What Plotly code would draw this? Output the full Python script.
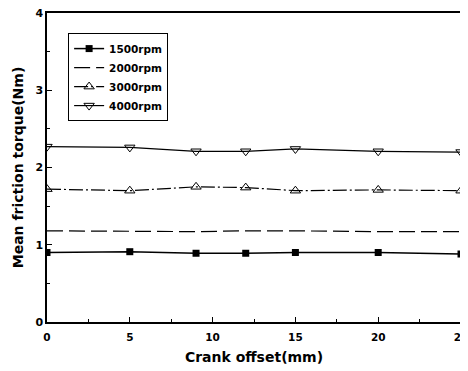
import plotly.graph_objects as go

offset_mm = [0, 5, 9, 12, 15, 20, 25]
rpm1500 = [0.90, 0.91, 0.89, 0.89, 0.90, 0.90, 0.88]
rpm2000 = [1.18, 1.17, 1.17, 1.18, 1.18, 1.17, 1.17]
rpm3000 = [1.72, 1.70, 1.75, 1.74, 1.70, 1.71, 1.70]
rpm4000 = [2.27, 2.26, 2.21, 2.21, 2.24, 2.21, 2.20]

FONT = "DejaVu Sans"
fig = go.Figure()
fig.add_trace(go.Scatter(x=offset_mm, y=rpm1500, name="1500rpm", mode="lines+markers",
                         line=dict(color="black", width=1.5),
                         marker=dict(symbol="square", size=7, color="black")))
fig.add_trace(go.Scatter(x=offset_mm, y=rpm2000, name="2000rpm", mode="lines",
                         line=dict(color="black", width=1.2, dash="16px,6px")))
fig.add_trace(go.Scatter(x=offset_mm, y=rpm3000, name="3000rpm", mode="lines+markers",
                         line=dict(color="black", width=1.2, dash="14px,3px,2px,3px"),
                         marker=dict(symbol="triangle-up-open", size=9, color="black", line=dict(width=1))))
fig.add_trace(go.Scatter(x=offset_mm, y=rpm4000, name="4000rpm", mode="lines+markers",
                         line=dict(color="black", width=1.2),
                         marker=dict(symbol="triangle-down-open", size=9, color="black", line=dict(width=1))))

axis_common = dict(showline=True, linecolor="black", linewidth=1.5, mirror=True,
                   ticks="inside", ticklen=5, tickcolor="black", showgrid=False, zeroline=False,
                   automargin=False, ticklabeloverflow="allow")
fig.update_xaxes(range=[0, 25], dtick=5, tick0=0, ticklabelstandoff=5,
                 tickfont=dict(family=FONT, size=10.5, color="black", weight="bold"),
                 minor=dict(ticks="inside", ticklen=3, dtick=2.5, tickcolor="black"),
                 title=dict(text="Crank offset(mm)", font=dict(family=FONT, size=14, color="black", weight="bold"), standoff=10),
                 **axis_common)
fig.update_yaxes(range=[0, 4], dtick=1, tick0=0,
                 tickfont=dict(family=FONT, size=11, color="black", weight="bold"),
                 minor=dict(ticks="inside", ticklen=3, dtick=0.5, tickcolor="black"),
                 title=dict(text="Mean friction torque(Nm)", font=dict(family=FONT, size=14, color="black", weight="bold"), standoff=8),
                 **axis_common)
fig.update_layout(width=468, height=360, margin=dict(l=39, r=15, t=5, b=46),
                  plot_bgcolor="white", paper_bgcolor="white",
                  legend=dict(x=0.051, y=0.935, xanchor="left", yanchor="top",
                              bordercolor="black", borderwidth=1, bgcolor="white",
                              font=dict(family=FONT, size=10.5, color="black", weight="bold"),
                              tracegroupgap=0, itemwidth=30),
                  showlegend=True)
fig.write_html("out.html")
